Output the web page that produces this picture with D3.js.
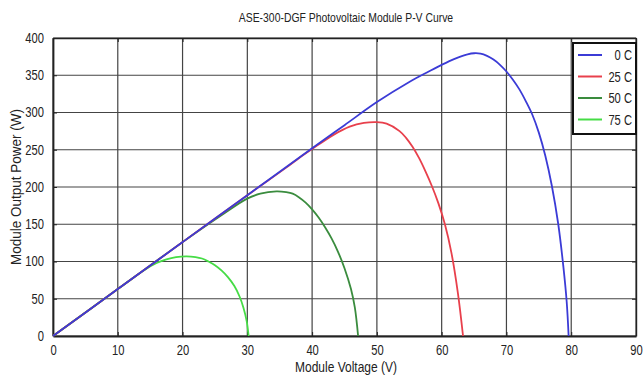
<!DOCTYPE html>
<html lang="en">
<head>
  <meta charset="utf-8">
  <script src="https://d3js.org/d3.v7.min.js"></script>
  <style>
    body { margin: 0; background: #fff; }
    text { font-family: "Liberation Sans", Arial, sans-serif; fill: #222; }
  </style>
</head>
<body>
<script>
// series: [voltage, power] pairs
const curve0 = [[0,0],[10,63],[20,126],[30,189],[40,252],[45,283],[50,314],[55,341],[58,355],[60,364],[62,372],[64,378],[65,379.5],[66,379],[67,376],[68,371],[69,364],[70,355],[71,344],[72,331],[73,315],[74,297],[75,273],[76,242],[77,202],[78,150],[78.8,92],[79.3,46],[79.6,0]];
const curve25 = [[0,0],[10,63],[20,126],[30,189],[36,226],[38,239],[40,251],[43.3,270],[45.8,281],[48,286],[50,287],[51.5,285],[53.5,275],[54.5,266],[55.5,254],[56.5,239],[57.5,221],[58.5,201],[59.5,178],[60.5,150],[61.5,112],[62.5,58],[63.3,0]];
const curve50 = [[0,0],[10,63],[20,126],[26,162],[29.9,184],[32,191],[34.5,194],[36,193],[37,191],[38,186],[39,179],[40,170],[41,159],[42,146],[43,131],[44,113],[45,91],[46,63],[46.6,38],[47.1,0]];
const curve75 = [[0,0],[10,63],[14,88],[16,98],[17.5,103],[19,106],[20.6,107],[22,106],[23,104],[24,100],[25,95],[26,88],[27,79],[28,67],[28.8,53],[29.4,38],[29.9,20],[30.2,0]];

const seriesNames = ["0 C", "25 C", "50 C", "75 C"];
const seriesColors = ["#3b3bd6", "#e8404c", "#3a8c3e", "#46dc46"];
const xTicks = [0, 10, 20, 30, 40, 50, 60, 70, 80, 90];
const yTicks = [0, 50, 100, 150, 200, 250, 300, 350, 400];

const allSeries = [curve0, curve25, curve50, curve75];

// dimensions and margins of the graph
const margin = {top: 38, right: 8, bottom: 42, left: 53};
const width = 644 - margin.left - margin.right;
const height = 378 - margin.top - margin.bottom;
const squeezeK = 0.8; // the original font is a condensed one

var svg = d3.select("body")
  .append("svg")
  .attr("width", 644)
  .attr("height", 378);

var g = svg.append("g")
  .attr("transform", "translate(" + margin.left + "," + margin.top + ")");

var x = d3.scaleLinear().domain([0, 90]).range([0, width]);
var y = d3.scaleLinear().domain([0, 400]).range([height, 0]);

// narrow the text horizontally, keeping its anchor in place
function squeeze(sel) {
  sel.each(function() {
    var t = d3.select(this);
    var xv = +t.attr("x") || 0;
    t.attr("x", xv / squeezeK).attr("transform", "scale(" + squeezeK + ",1)");
  });
}

// grid
g.append("g")
  .selectAll("line")
  .data(xTicks)
  .enter()
  .append("line")
  .attr("x1", function(d) { return x(d); })
  .attr("x2", function(d) { return x(d); })
  .attr("y1", 0)
  .attr("y2", height)
  .attr("stroke", "#444")
  .attr("stroke-width", 1.2);

g.append("g")
  .selectAll("line")
  .data(yTicks)
  .enter()
  .append("line")
  .attr("x1", 0)
  .attr("x2", width)
  .attr("y1", function(d) { return y(d); })
  .attr("y2", function(d) { return y(d); })
  .attr("stroke", "#444")
  .attr("stroke-width", 1.2);

// axes (ticks inward, MATLAB style)
var xAxis = g.append("g")
  .attr("transform", "translate(0," + height + ")")
  .call(d3.axisBottom(x).tickValues(xTicks).tickSizeInner(-4).tickSizeOuter(0).tickPadding(9));
var yAxis = g.append("g")
  .call(d3.axisLeft(y).tickValues(yTicks).tickSizeInner(-4).tickSizeOuter(0).tickPadding(9));

g.append("g")
  .attr("transform", "translate(" + width + ",0)")
  .call(d3.axisRight(y).tickValues(yTicks).tickSizeInner(-4).tickSizeOuter(0).tickFormat(""));
g.append("g")
  .call(d3.axisTop(x).tickValues(xTicks).tickSizeInner(-4).tickSizeOuter(0).tickFormat(""));

g.selectAll(".domain").attr("stroke", "#222").attr("stroke-width", 1.4);
g.selectAll(".tick line").attr("stroke", "#222");
xAxis.selectAll("text").style("font-size", "14px").attr("fill", "#222").call(squeeze);
yAxis.selectAll("text").style("font-size", "14px").attr("fill", "#222").call(squeeze);
xAxis.select(".domain").attr("stroke-width", 2.2);
yAxis.select(".domain").attr("stroke-width", 1.8);

// curves
var line = d3.line()
  .x(function(d) { return x(d[0]); })
  .y(function(d) { return y(d[1]); })
  .curve(d3.curveCatmullRom.alpha(0.5));

// draw in reverse so blue sits on top along the shared slope
for (var i = allSeries.length - 1; i >= 0; i--) {
  g.append("path")
    .datum(allSeries[i])
    .attr("fill", "none")
    .attr("stroke", seriesColors[i])
    .attr("stroke-width", 1.8)
    .attr("d", line);
}

// legend
var legend = svg.append("g").attr("transform", "translate(573,43)");
legend.append("rect")
  .attr("width", 63)
  .attr("height", 91)
  .attr("fill", "#fff")
  .attr("stroke", "#111")
  .attr("stroke-width", 2);

var rows = legend.selectAll(".row")
  .data(seriesNames)
  .enter()
  .append("g")
  .attr("transform", function(d, i) { return "translate(0," + (12 + i * 21.5) + ")"; });
rows.append("line")
  .attr("x1", 5).attr("x2", 29)
  .attr("stroke", function(d, i) { return seriesColors[i]; })
  .attr("stroke-width", 2);
rows.append("text")
  .attr("x", 59)
  .attr("y", 5)
  .attr("text-anchor", "end")
  .style("font-size", "14px")
  .text(function(d) { return d; })
  .call(squeeze);

// titles
svg.append("text")
  .attr("x", 346)
  .attr("y", 22)
  .attr("text-anchor", "middle")
  .style("font-size", "13px")
  .text("ASE-300-DGF Photovoltaic Module P-V Curve")
  .call(squeeze);

svg.append("text")
  .attr("x", 346)
  .attr("y", 372)
  .attr("text-anchor", "middle")
  .style("font-size", "15px")
  .text("Module Voltage (V)")
  .call(squeeze);

svg.append("text")
  .attr("transform", "translate(21,187) rotate(-90) scale(0.9,1)")
  .attr("text-anchor", "middle")
  .style("font-size", "15px")
  .text("Module Output Power (W)");
</script>
</body>
</html>
